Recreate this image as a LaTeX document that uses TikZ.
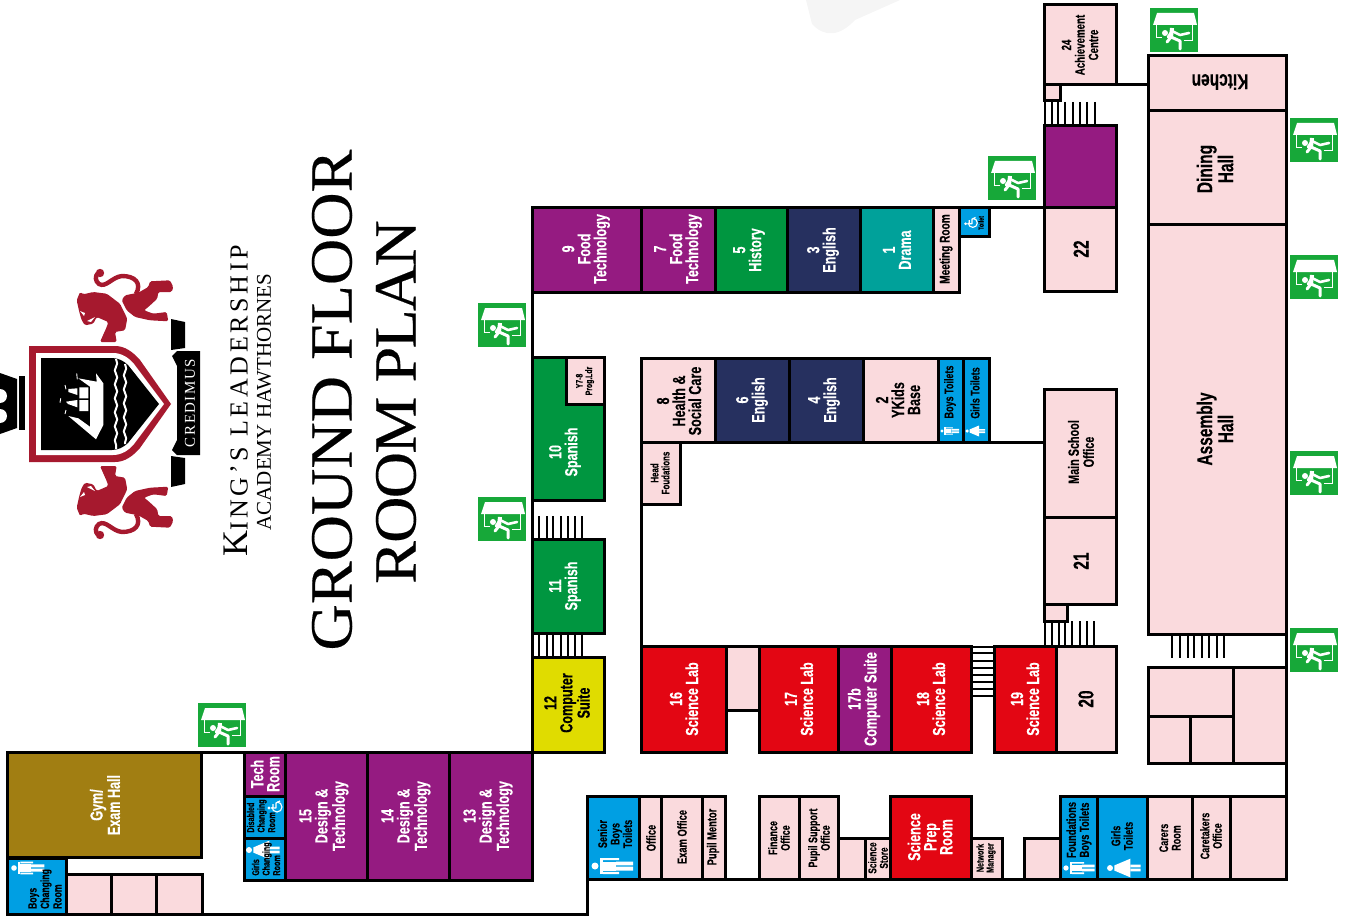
\documentclass[tikz,border=0pt]{standalone}
\usepackage{fontspec}
\usetikzlibrary{decorations.pathmorphing}
\newfontfamily\roomfont{Liberation Sans}[FakeStretch=0.72,FakeBold=0.25]
\newfontfamily\signfont{Liberation Serif}
\newfontfamily\titlefont{Liberation Serif}[FakeStretch=1.07,FakeBold=0.3]
\definecolor{wallpink}{HTML}{FADADD}
\definecolor{labred}{HTML}{E30613}
\definecolor{techpurple}{HTML}{951B81}
\definecolor{langgreen}{HTML}{009640}
\definecolor{engnavy}{HTML}{26305F}
\definecolor{dramateal}{HTML}{00A19A}
\definecolor{wcblue}{HTML}{009FE3}
\definecolor{gymolive}{HTML}{A17E12}
\definecolor{suiteyellow}{HTML}{E0DC00}
\definecolor{exitgreen}{HTML}{17A839}
\definecolor{crestred}{HTML}{A6192E}
\tikzset{
  x=1pt, y=-1pt,
  wall/.style={draw=black, line width=3pt},
  stairs/.style={draw=black, line width=2pt},
  room/.style={wall, fill=wallpink},
  label/.style={rotate=90, align=center, inner sep=0pt, font=\roomfont\bfseries\fontsize{#1}{#1}\selectfont},
  big/.style={rotate=90, align=center, inner sep=0pt, text=white, font=\roomfont\bfseries\fontsize{17.5}{16}\selectfont},
  mid/.style={rotate=90, align=center, inner sep=0pt, font=\roomfont\bfseries\fontsize{13}{14}\selectfont},
  hall/.style={rotate=90, align=center, inner sep=0pt, font=\roomfont\bfseries\fontsize{21.5}{21}\selectfont},
  small/.style={rotate=90, align=center, inner sep=0pt, font=\roomfont\bfseries\fontsize{12.5}{12.5}\selectfont},
  tiny/.style={rotate=90, align=left, inner sep=0pt, font=\roomfont\bfseries\fontsize{10}{10.5}\selectfont},
  exitsign/.pic={
    \fill [exitgreen] (-24,-22) rectangle (24,22);
    \fill [white] (-17,-17) -- (20,-17) -- (23,-5) -- (-21,-5) -- cycle;
    \draw [white, line width=0.8pt] (-18,-5) -- (-18,7) -- (-12,7) (18,-5) -- (18,10) -- (10,10);
    \fill [white] (-9,3) circle (3);
    \draw [white, line width=4pt, line join=round] (-2,-2) -- (-3,7);
    \draw [white, line width=2.6pt, line cap=round, line join=round] (-2,1) -- (6,5) -- (15,3) (-2,1) -- (-6,7);
    \draw [white, line width=3pt, line cap=round, line join=round] (-3,7) -- (6,11) -- (6,19) (-3,7) -- (-7,12);
  },
  maleicon/.pic={
    \fill [white] (0,0) circle (3.5);
    \fill [white] (5,-8) rectangle (8,8);
    \fill [white] (8,-8) rectangle (24,-5.8) (8,5.8) rectangle (24,8);
    \fill [white] (8,-4.5) rectangle (21,4.5);
    \fill [white] (21,-4.5) rectangle (38,-0.7) (21,0.7) rectangle (38,4.5);
  },
  femaleicon/.pic={
    \fill [white] (0,0) circle (3.5);
    \fill [white] (5,-3) -- (24,-11) -- (24,11) -- (5,3) -- cycle;
    \fill [white] (24,-4) rectangle (36,-0.7) (24,0.7) rectangle (36,4);
  },
  wheelicon/.pic={
    \fill [white] (-6,2) circle (1.6);
    \draw [white, line width=1.3pt, line join=round] (-4,2) -- (1,2) -- (1,-3) -- (5,-5) (-2,2) -- (-2,-2);
    \draw [white, line width=1.1pt] (-3,1) .. controls (-3,3.8) and (-0.8,6) .. (2,6) .. controls (4.8,6) and (7,3.8) .. (7,1) .. controls (7,-1.8) and (4.8,-4) .. (2,-4);
  },
  crestlion/.pic={
    \fill [crestred, rounded corners=1.5pt] (76.7,300.3) -- (80,292) -- (83.3,294.3) -- (93.3,292) -- (106.7,293.7) -- (120,303.7) -- (127.3,318.7) -- (125,330.3) -- (115,332) -- (116.7,342) -- (100,342) -- (106.7,327) -- (108.3,322) -- (96.7,317) -- (93.3,323.7) -- (85,325.3) -- (81.7,320.3) -- (79.3,312) -- cycle;
    \fill [crestred, rounded corners=1.5pt] (121.7,300.3) -- (125,295.3) -- (138.3,292.7) -- (148.3,287) -- (150,281.3) -- (170,280.3) -- (173.3,287) -- (171.7,292) -- (158.3,292) -- (157.3,298.7) -- (148.3,307) -- (144,310.3) -- (153.3,313.7) -- (166.7,312) -- (168.3,321.3) -- (150,320.3) -- (135,317) -- (126.7,310.3) -- cycle;
    \draw [crestred, line width=4.4pt] (136,294) .. controls (142,283) and (135,276) .. (122,276) .. controls (112,277) and (106,288) .. (99,284) .. controls (95,281) and (95,276) .. (98,273);
    \fill [crestred] (100,273) circle (4.2);
    \fill [white] (80,311) -- (85,313) -- (84,316) -- cycle (87,321) -- (95,317) -- (91,322) -- cycle;
  },
}
\begin{document}
\begin{tikzpicture}
\useasboundingbox (0,0) rectangle (1351,917);

% Faint patch at the top edge
\fill [black!4] (806,0) -- (812,24) .. controls (825,38) and (840,36) .. (855,20) -- (900,0) -- cycle;

% Drawing the shield
\fill [crestred] (29,346) -- (115,346) .. controls (125,346) and (133,352) .. (140,360) -- (171,404) -- (140,448) .. controls (133,456) and (125,462) .. (115,462) -- (29,462) -- cycle;
\fill [white] (36,353) -- (113,353) .. controls (122,353) and (129,358) .. (134,364) -- (164,404) -- (134,444) .. controls (129,450) and (122,455) .. (113,455) -- (36,455) -- cycle;
\fill [black] (41,358) -- (112,358) .. controls (118,358) and (124,361) .. (128,365) -- (159,404) -- (128,443) .. controls (124,447) and (118,450) .. (112,450) -- (41,450) -- cycle;

% Drawing the waves and the ship
\draw [white, line width=2pt, decorate, decoration={snake, amplitude=1.2pt, segment length=14pt}] (116,359) -- (116,449);
\draw [white, line width=2pt, decorate, decoration={snake, amplitude=1.2pt, segment length=14pt}] (125,364) -- (125,444);
\fill [white] (96,373.3) -- (103.3,383.3) -- (103.3,425) -- (96,439.3) -- (68.3,416) -- (78.3,418.3) -- (90,426.7) -- (90,386.7) -- (78.3,378.3) -- (96.7,381.7) -- cycle;
\fill [white] (68.3,389) -- (77.3,388.3) -- (77.3,395) -- (68.3,392) -- cycle (66,401.7) -- (77.3,400) -- (77.3,407.3) -- (68,404) -- cycle;
\fill [white] (79.3,387.3) rectangle (88.3,398.3) (79.3,400) rectangle (88.3,411);
\draw [white, line width=0.9pt] (76.7,373.3) -- (77.3,379.3) (65,385) -- (66,389.3) (60.7,398.3) -- (60,402.7) (66,410) -- (65,414);

% Drawing the ribbon
\fill [black] (177,351) -- (200,351) -- (200,455) -- (177,455) -- (172,450) -- (177,440) -- (177,366) -- (172,356) -- cycle;
\fill [black] (171,319) -- (185,322) -- (185,348) -- (171,350) -- cycle;
\fill [black] (171,456) -- (185,458) -- (185,484) -- (171,487) -- cycle;
\fill [black] (19,376) -- (25,376) -- (25,430) -- (19,430) -- cycle;
\fill [black] (0,373) -- (17,379) -- (17,428) -- (0,434) -- cycle;
\fill [white] (0,396) circle (7) (0,416) circle (7);
\draw (190,403) node (motto) [rotate=90, text=white, font=\signfont\fontsize{15}{15}\selectfont] {\addfontfeature{LetterSpace=10}CREDIMUS};%

% Drawing the lions
\pic at (0,0) {crestlion};
\pic [yscale=-1] at (0,808) {crestlion};

% Marking the school name and the plan title
\draw (236,401) node (school) [rotate=90, font=\signfont\fontsize{36}{36}\selectfont] {\addfontfeature{LetterSpace=14}K{\fontsize{26}{26}\selectfont ING’S LEADERSHIP}};%
\draw (264,402) node (academy) [rotate=90, font=\signfont\fontsize{21}{21}\selectfont] {ACADEMY HAWTHORNES};%
\draw (332,400) node (floor) [rotate=90, font=\titlefont\fontsize{60}{60}\selectfont] {GROUND FLOOR};%
\draw (396,402) node (plan) [rotate=90, font=\titlefont\fontsize{60}{60}\selectfont] {\addfontfeature{LetterSpace=-3}ROOM PLAN};%

% Drawing the gym wing
\draw [wall, fill=gymolive] (7,752) rectangle (201,857);
\draw (105,805) node (gym) [big] {Gym/\\Exam Hall};%
\draw [wall, fill=wcblue] (7,858) rectangle (66,914);
\pic [scale=0.8] at (14,868) {maleicon};
\draw (45,889) node (boyschange) [tiny, font=\roomfont\bfseries\fontsize{12}{12.5}\selectfont] {Boys\\Changing\\Room};%
\draw [room] (66,874) rectangle (111,914);
\draw [room] (111,874) rectangle (156,914);
\draw [room] (156,874) rectangle (202,914);
\draw [wall] (202,914) -- (587,914) -- (587,879);
\draw [wall] (201,752) -- (244,752);

% Drawing rooms 13 to 15 and the tech rooms
\draw [wall, fill=techpurple] (244,752) rectangle (285,796);
\draw (265,774) node (tech) [big] {Tech\\Room};%
\draw [wall, fill=wcblue] (244,796) rectangle (285,838);
\pic [scale=1] at (275,806) {wheelicon};
\draw (261,816) node (disabled) [tiny] {Disabled\\Changing\\Room};%
\draw [wall, fill=wcblue] (244,838) rectangle (285,880);
\pic [scale=0.85] at (249,850) {femaleicon};
\draw (266,859) node (girlschange) [tiny] {Girls\\Changing\\Room};%
\draw [wall, fill=techpurple] (285,752) rectangle (367,880);
\draw (324,816) node (room15) [big] {15\\Design \&\\Technology};%
\draw [wall, fill=techpurple] (367,752) rectangle (449,880);
\draw (406,816) node (room14) [big] {14\\Design \&\\Technology};%
\draw [wall, fill=techpurple] (449,752) rectangle (532,880);
\draw (488,816) node (room13) [big] {13\\Design \&\\Technology};%

% Drawing rooms 9 to 12 and the stairs
\draw [wall, fill=suiteyellow] (532,657) rectangle (604,752);
\draw (567,703) node (room12) [big, text=black] {12\\Computer\\Suite};%
\draw [stairs] (532,633) -- (532,657) (539,633) -- (539,657) (547,633) -- (547,657) (553,633) -- (553,657) (561,633) -- (561,657) (568,633) -- (568,657) (575,633) -- (575,657) (582,633) -- (582,657);
\draw [wall, fill=langgreen] (532,539) rectangle (604,633);
\draw (565,586) node (room11) [big] {11\\Spanish};%
\draw [stairs] (532,516) -- (532,539) (539,516) -- (539,539) (547,516) -- (547,539) (553,516) -- (553,539) (561,516) -- (561,539) (568,516) -- (568,539) (575,516) -- (575,539) (582,516) -- (582,539);
\draw [wall] (532,500) -- (532,539) (532,633) -- (532,657) (532,752) -- (532,657);
\draw [wall, fill=langgreen] (532,357) rectangle (604,500);
\draw [room] (566,357) rectangle (604,404);
\draw (585,381) node (progldr) [label=9.5] {Y7-8\\Prog.Ldr};%
\draw (565,452) node (room10) [big] {10\\Spanish};%
\draw [wall] (532,292) -- (532,357);
\draw [wall, fill=techpurple] (532,208) rectangle (641,292);
\draw (586,249) node (room9) [big] {9\\Food\\Technology};%
\draw [wall, fill=techpurple] (641,208) rectangle (715,292);
\draw (678,249) node (room7) [big] {7\\Food\\Technology};%
\draw [wall, fill=langgreen] (715,208) rectangle (787,292);
\draw (749,250) node (room5) [big] {5\\History};%
\draw [wall, fill=engnavy] (787,208) rectangle (860,292);
\draw (823,250) node (room3) [big] {3\\English};%
\draw [wall, fill=dramateal] (860,208) rectangle (933,292);
\draw (897,250) node (room1) [big] {1\\Drama};%
\draw [room] (933,208) rectangle (959,292);
\draw (946,249) node (meeting) [label=14] {Meeting Room};%
\draw [wall, fill=wcblue] (959,208) rectangle (989,237);
\pic [scale=0.9] at (971,222) {wheelicon};
\draw (981,223) node (toilet) [label=7.5] {Toilet};%
\draw [wall] (989,208) -- (1044,208);

% Drawing the inner block
\draw [room] (641,358) rectangle (715,442);
\draw (679,401) node (room8) [big, text=black] {8\\Health \&\\Social Care};%
\draw [room] (641,442) rectangle (680,504);
\draw (660,473) node (headfound) [label=11] {Head\\Foudations};%
\draw [wall, fill=engnavy] (715,358) rectangle (789,442);
\draw (752,400) node (room6) [big] {6\\English};%
\draw [wall, fill=engnavy] (789,358) rectangle (863,442);
\draw (824,400) node (room4) [big] {4\\English};%
\draw [room] (863,358) rectangle (938,442);
\draw (898,400) node (room2) [big, text=black] {2\\YKids\\Base};%
\draw [wall, fill=wcblue] (938,358) rectangle (963,442);
\draw (950,392) node (boyswc) [label=12.5] {Boys Toilets};%
\pic [scale=0.45] at (942,431) {maleicon};
\draw [wall, fill=wcblue] (963,358) rectangle (989,442);
\draw (975,393) node (girlswc) [label=12.5] {Girls Toilets};%
\pic [scale=0.5] at (967,431) {femaleicon};
\draw [wall] (989,442) -- (1044,442) (641,504) -- (641,646);

% Drawing rooms 16 to 20
\draw [wall, fill=labred] (641,646) rectangle (726,752);
\draw (684,699) node (room16) [big] {16\\Science Lab};%
\draw [room] (726,646) rectangle (759,710);
\draw [wall, fill=labred] (759,646) rectangle (838,752);
\draw (799,699) node (room17) [big] {17\\Science Lab};%
\draw [wall, fill=techpurple] (838,646) rectangle (891,752);
\draw (864,699) node (room17b) [big] {17b\\Computer Suite};%
\draw [wall, fill=labred] (891,646) rectangle (971,752);
\draw (931,699) node (room18) [big] {18\\Science Lab};%
\draw [stairs] (971,647) -- (994,647) (971,653) -- (994,653) (971,661) -- (994,661) (971,668) -- (994,668) (971,675) -- (994,675) (971,682) -- (994,682) (971,689) -- (994,689) (971,696) -- (994,696);
\draw [wall, fill=labred] (994,646) rectangle (1056,752);
\draw (1025,699) node (room19) [big] {19\\Science Lab};%
\draw [room] (1056,646) rectangle (1116,752);
\draw (1086,699) node (room20) [hall] {20};%

% Drawing the right block
\draw [stairs] (1045,621) -- (1045,646) (1052,621) -- (1052,646) (1059,621) -- (1059,646) (1065,621) -- (1065,646) (1072,621) -- (1072,646) (1080,621) -- (1080,646) (1087,621) -- (1087,646) (1094,621) -- (1094,646);
\draw [room] (1044,604) rectangle (1067,621);
\draw [room] (1044,517) rectangle (1116,604);
\draw (1081,561) node (room21) [hall] {21};%
\draw [room] (1044,389) rectangle (1116,517);
\draw (1081,452) node (mainoffice) [label=15] {Main School\\Office};%
\draw [room] (1044,208) rectangle (1116,291);
\draw (1081,249) node (room22) [hall] {22};%
\draw [wall, fill=techpurple] (1044,126) rectangle (1116,208);
\draw [stairs] (1045,102) -- (1045,126) (1052,102) -- (1052,126) (1058,102) -- (1058,126) (1065,102) -- (1065,126) (1073,102) -- (1073,126) (1080,102) -- (1080,126) (1087,102) -- (1087,126) (1095,102) -- (1095,126);
\draw [room] (1044,85) rectangle (1060,101);
\draw [room] (1044,5) rectangle (1116,85);
\draw (1080,45) node (room24) [label=13.5] {24\\Achievement\\Centre};%
\draw [wall] (1116,85) -- (1148,85);

% Drawing the halls
\draw [room] (1148,56) rectangle (1286,111);
\draw (1220,82) node (kitchen) [hall, rotate=90] {Kitchen};%
\draw [room] (1148,111) rectangle (1286,225);
\draw (1215,169) node (dining) [hall] {Dining\\Hall};%
\draw [room] (1148,225) rectangle (1286,634);
\draw (1215,429) node (assembly) [hall] {Assembly\\Hall};%
\draw [stairs] (1172,634) -- (1172,658) (1180,634) -- (1180,658) (1188,634) -- (1188,658) (1194,634) -- (1194,658) (1202,634) -- (1202,658) (1209,634) -- (1209,658) (1217,634) -- (1217,658) (1224,634) -- (1224,658);
\draw [wall] (1286,634) -- (1286,667);
\draw [room] (1148,667) rectangle (1233,716);
\draw [room] (1148,716) rectangle (1190,763);
\draw [room] (1190,716) rectangle (1233,763);
\draw [room] (1233,667) rectangle (1286,763);
\draw [wall] (1286,763) -- (1286,796);

% Drawing the bottom row
\draw [wall] (587,879) -- (1286,879);
\draw [wall, fill=wcblue] (587,796) rectangle (639,879);
\draw (615,834) node (senior) [small] {Senior\\Boys\\Toilets};%
\pic at (595,866) {maleicon};
\draw [room] (639,796) rectangle (661,879);
\draw (651,838) node (office) [mid] {Office};%
\draw [room] (661,796) rectangle (702,879);
\draw (682,837) node (examoffice) [mid] {Exam Office};%
\draw [room] (702,796) rectangle (725,879);
\draw (713,837) node (mentor) [mid] {Pupil Mentor};%
\draw [room] (759,796) rectangle (799,879);
\draw (779,838) node (finance) [small] {Finance\\Office};%
\draw [room] (799,796) rectangle (838,879);
\draw (819,838) node (pupilsup) [small] {Pupil Support\\Office};%
\draw [room] (838,838) rectangle (865,879);
\draw [room] (865,838) rectangle (890,879);
\draw (878,858) node (scistore) [label=11.5] {Science\\Store};%
\draw [wall, fill=labred] (890,796) rectangle (971,879);
\draw (930,837) node (sciprep) [big] {Science\\Prep\\Room};%
\draw [room] (971,838) rectangle (1002,879);
\draw (986,858) node (network) [label=10] {Network\\Manager};%
\draw [room] (1024,838) rectangle (1060,879);
\draw [wall, fill=wcblue] (1060,796) rectangle (1097,879);
\draw (1079,830) node (foundboys) [label=13] {Foundations\\Boys Toilets};%
\pic [scale=0.75] at (1066,868) {maleicon};
\draw [wall, fill=wcblue] (1097,796) rectangle (1147,879);
\draw (1122,836) node (girlstoilet) [small] {Girls\\Toilets};%
\pic [scale=0.85] at (1110,868) {femaleicon};
\draw [room] (1147,796) rectangle (1192,879);
\draw (1170,838) node (carers) [small] {Carers\\Room};%
\draw [room] (1192,796) rectangle (1230,879);
\draw (1211,836) node (caretakers) [small] {Caretakers\\Office};%
\draw [room] (1230,796) rectangle (1286,879);

% Marking the exits
\pic at (222,725) {exitsign};
\pic at (502,325) {exitsign};
\pic at (502,519) {exitsign};
\pic at (1012,178) {exitsign};
\pic at (1174,30) {exitsign};
\pic at (1314,140) {exitsign};
\pic at (1314,277) {exitsign};
\pic at (1314,473) {exitsign};
\pic at (1314,650) {exitsign};
\end{tikzpicture}
\end{document}
